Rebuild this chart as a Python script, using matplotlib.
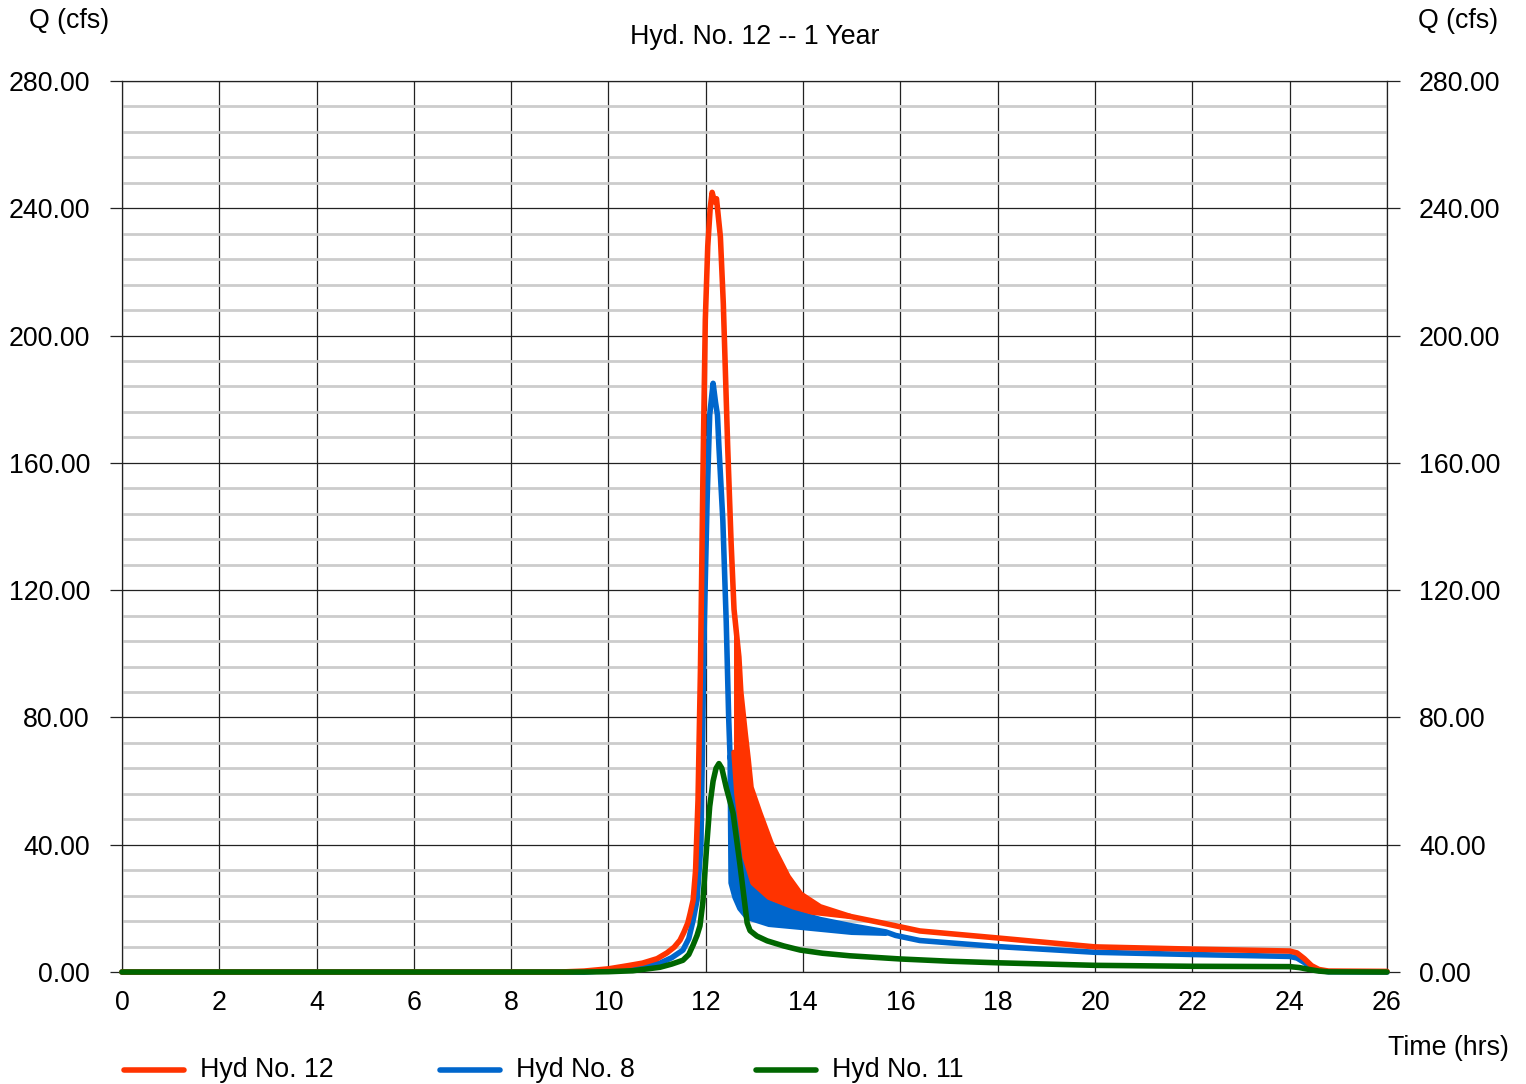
import numpy as np
import matplotlib.pyplot as plt
from matplotlib.lines import Line2D
from matplotlib.ticker import MultipleLocator, FormatStrFormatter

plt.rcParams['font.family'] = ['Liberation Sans', 'DejaVu Sans']

# Hyd No. 12 (red): rising limb + peak, sawtooth band (upper / lower envelope), tail
red_rise_t = [0, 9.0, 9.5, 10.0, 10.4, 10.7, 11.0, 11.2, 11.35, 11.47, 11.55, 11.63, 11.68, 11.74,
              11.79, 11.84, 11.89, 11.94, 11.99, 12.04, 12.09, 12.13, 12.18, 12.22, 12.30,
              12.36, 12.45, 12.52]
red_rise_q = [0, 0, 0.3, 1.0, 2.0, 2.8, 4.2, 6.0, 7.8, 10.0, 12.5, 15.4, 18.5, 22.6,
              32, 54, 95, 155, 205, 228, 240, 245, 242, 243, 231,
              210, 165, 135]
red_hi_t = [12.58, 12.68, 12.72, 12.81, 12.87, 12.93, 13.11, 13.34, 13.69, 13.95, 14.35, 14.96]
red_hi_q = [114, 99, 88, 75, 67, 58, 50, 40.5, 30, 24.5, 20.5, 17.5]
red_lo_t = [12.58, 12.64, 12.81, 12.97, 13.30, 13.80, 14.20, 14.96]
red_lo_q = [69, 56, 36, 28, 23.5, 20.5, 18.8, 17.5]
red_tail_t = [15.6, 16.4, 18, 20, 22, 24, 24.15, 24.3, 24.45, 24.6, 24.8, 26]
red_tail_q = [15.5, 12.9, 10.7, 7.9, 7.2, 6.6, 6.0, 4.2, 2.0, 0.8, 0.3, 0.2]

# Hyd No. 8 (blue)
blue_rise_t = [0, 9.5, 10.0, 10.5, 11.06, 11.3, 11.53, 11.65, 11.74, 11.82, 11.90, 11.97, 12.03,
               12.08, 12.15, 12.20, 12.24, 12.27, 12.35, 12.42, 12.47, 12.50]
blue_rise_q = [0, 0, 0.5, 1.2, 2.8, 4.5, 6.9, 10.5, 16.3, 22.6, 40, 110, 150,
               175, 185, 179, 175, 165, 142, 110, 80, 67]
blue_hi_t = [12.52, 12.60, 12.70, 12.90, 13.30, 13.90, 14.35, 15.00, 15.70]
blue_hi_q = [69, 55, 42, 32, 21.8, 18.5, 16.5, 14.5, 12.6]
blue_lo_t = [12.52, 12.60, 12.70, 12.85, 13.30, 14.00, 15.00, 15.70]
blue_lo_q = [28, 23.5, 20, 17.2, 15.0, 14.0, 12.5, 12.2]
blue_tail_t = [15.9, 16.4, 18, 20, 22, 24, 24.15, 24.3, 24.45, 24.6, 24.8, 26]
blue_tail_q = [11.5, 9.9, 8.0, 6.2, 5.5, 4.9, 4.4, 3.0, 1.4, 0.5, 0.1, 0]

# Hyd No. 11 (green)
green_t = [0, 9.5, 10.0, 10.5, 11.06, 11.3, 11.53, 11.65, 11.74, 11.82, 11.88, 11.94, 12.02,
           12.08, 12.15, 12.21, 12.27, 12.33, 12.42, 12.56, 12.70, 12.85, 12.91, 13.05,
           13.26, 13.6, 13.94, 14.4, 14.96, 16.0, 17.0, 18, 20, 22, 24,
           24.2, 24.4, 24.6, 24.8, 26]
green_q = [0, 0, 0.1, 0.4, 1.5, 2.5, 3.7, 5.5, 8.5, 11.5, 14.5, 22, 40,
           52, 60, 64, 65.5, 64, 58, 50, 34, 15.4, 13.0, 11.3,
           9.8, 8.2, 6.9, 5.9, 5.1, 4.1, 3.4, 2.9, 2.1, 1.8, 1.7,
           1.4, 0.8, 0.3, 0.05, 0]

legend_labels = ['Hyd No. 12', 'Hyd No. 8', 'Hyd No. 11']
c_red, c_blue, c_green = '#FF3300', '#0066CC', '#006600'

fig = plt.figure(figsize=(15.26, 10.84), dpi=100)
ax = fig.add_axes([0.0799, 0.1033, 0.8290, 0.8220])

ax.set_xlim(0, 26)
ax.set_ylim(0, 280)
ax.xaxis.set_major_locator(MultipleLocator(2))
ax.yaxis.set_major_locator(MultipleLocator(40))
ax.yaxis.set_minor_locator(MultipleLocator(8))
ax.yaxis.set_major_formatter(FormatStrFormatter('%.2f'))
ax.grid(which='minor', axis='y', color='#CCCCCC', lw=2.0, zorder=0)
ax.grid(which='major', axis='both', color='#222222', lw=0.9, zorder=0.5)
ax.set_axisbelow(True)
for s in ax.spines.values():
    s.set_color('#222222')
    s.set_linewidth(0.9)

fs = 19.3
ax.tick_params(axis='y', which='major', length=9, width=0.9, pad=14, labelsize=fs,
               right=True, labelright=True, color='#222222')
ax.tick_params(axis='y', which='minor', length=0)
ax.tick_params(axis='x', length=0, pad=13, labelsize=fs)

lw = 4.0
kw = dict(lw=lw, solid_capstyle='round', solid_joinstyle='round', clip_on=False)

# blue
ax.fill(blue_hi_t + blue_lo_t[::-1], blue_hi_q + blue_lo_q[::-1], color=c_blue, lw=0, zorder=2)
ax.plot([blue_rise_t[-1]] + blue_lo_t, [blue_rise_q[-1]] + blue_lo_q, color=c_blue, zorder=2, **kw)
ax.plot(blue_rise_t + blue_hi_t + blue_tail_t, blue_rise_q + blue_hi_q + blue_tail_q,
        color=c_blue, zorder=2, **kw)

# red
ax.fill(red_hi_t + red_lo_t[::-1], red_hi_q + red_lo_q[::-1], color=c_red, lw=0, zorder=3)
ax.plot(red_lo_t, red_lo_q, color=c_red, zorder=3, **kw)
ax.plot(red_rise_t + red_hi_t + red_tail_t, red_rise_q + red_hi_q + red_tail_q,
        color=c_red, zorder=3, **kw)

# green
ax.plot(green_t, green_q, color=c_green, zorder=4, **kw)

# texts
fig.text(0.4948, 1 - 37 / 1084, 'Hyd. No. 12 -- 1 Year', ha='center', va='center', fontsize=fs)
fig.text(0.0452, 1 - 21 / 1084, 'Q (cfs)', ha='center', va='center', fontsize=fs)
fig.text(0.9554, 1 - 21 / 1084, 'Q (cfs)', ha='center', va='center', fontsize=fs)
fig.text(0.949, 1 - 1048 / 1084, 'Time (hrs)', ha='center', va='center', fontsize=fs)

# legend
leg_x = [122, 438, 754]
y = 1 - 1070 / 1084
for x0, lab, c in zip(leg_x, legend_labels, [c_red, c_blue, c_green]):
    fig.add_artist(Line2D([(x0 + 2) / 1526, (x0 + 62) / 1526], [y, y], color=c, lw=lw,
                          solid_capstyle='round', transform=fig.transFigure))
    fig.text((x0 + 78) / 1526, y, lab, ha='left', va='center', fontsize=fs)

fig.savefig('out.png', dpi=100)
